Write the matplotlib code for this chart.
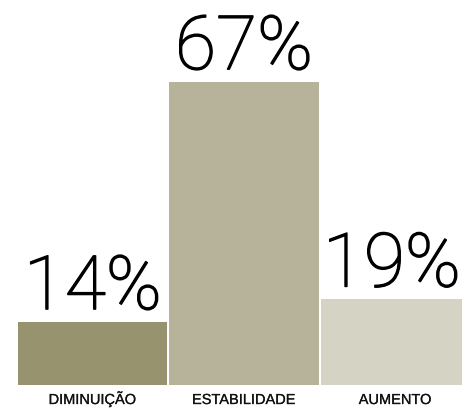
import numpy as np
import matplotlib
matplotlib.use('Agg')
import matplotlib.pyplot as plt
import matplotlib.patheffects as pe

categories = ['DIMINUIÇÃO', 'ESTABILIDADE', 'AUMENTO']
shares = [14, 67, 19]
bar_colors = ['#97936f', '#b7b39a', '#d4d3c4']

W, H, DPI = 462, 408, 100
px_per_unit = 151.3          # bar pitch in pixels
px_per_pct = 4.527           # vertical scale
base_px = 23                 # baseline height above figure bottom

fig = plt.figure(figsize=(W / DPI, H / DPI), dpi=DPI)
ax = fig.add_axes([0, base_px / H, 1, 1 - base_px / H])
ax.set_xlim(-92.7 / px_per_unit, (W - 92.7) / px_per_unit)
ax.set_ylim(0, (H - base_px) / px_per_pct)
ax.axis('off')

x = np.arange(len(categories))
ax.bar(x, shares, width=0.985, color=bar_colors, linewidth=0)

# light face thickened a little with a thin outline
big_fx = [pe.withStroke(linewidth=1.0, foreground='black')]
small_fx = [pe.withStroke(linewidth=0.15, foreground='#111111')]
# last bar runs off the right edge, pull its label in slightly
nudge = [0, 0, -2.5]

for xi, v, cat, dx in zip(x, shares, categories, nudge):
    ax.annotate('{}%'.format(v), (xi, v), xytext=(dx, 9), textcoords='offset points',
                ha='center', va='baseline', fontsize=54, family='Roboto',
                fontweight='light', color='black', path_effects=big_fx)
    ax.annotate(cat, (xi, 0), xytext=(0, -13.7), textcoords='offset points',
                ha='center', va='baseline', fontsize=10.5, family='Liberation Sans',
                color='#111111', annotation_clip=False, path_effects=small_fx)

fig.savefig('out.png', dpi=DPI)
